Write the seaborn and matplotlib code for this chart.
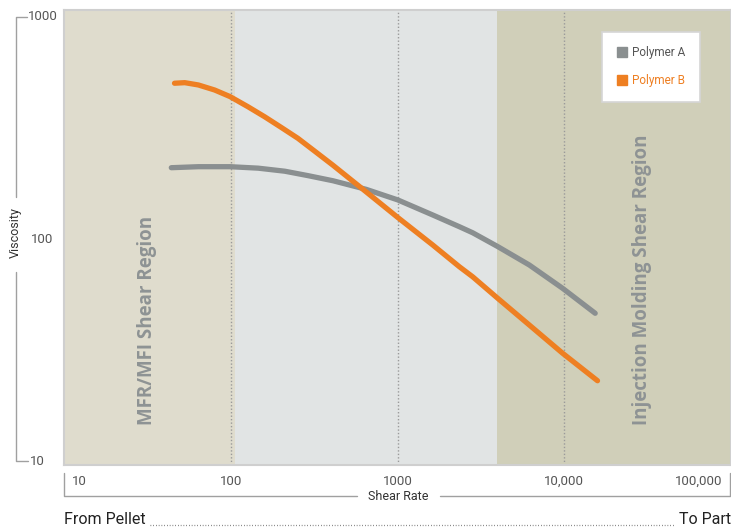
import numpy as np
import pandas as pd
import matplotlib
matplotlib.use("Agg")
import matplotlib.pyplot as plt
import matplotlib.transforms as mtransforms
from matplotlib.lines import Line2D
import seaborn as sns

# ---- valores ----
rate_a = [44, 64, 99, 146, 211, 290, 410, 649, 1004, 1627, 2351, 2824, 3988, 6171, 9770, 15330]
visc_a = [209.5, 211.7, 211.7, 208.5, 202, 193, 183, 167.4, 150, 128.3, 113.6, 106.7, 92.5, 76.4, 60.0, 46.3]

rate_b = [46, 53, 64, 80, 99, 127, 160, 201, 253, 318, 410, 649, 1004, 1627, 2351, 2824, 3988, 6171, 9770, 15830]
visc_b = [503, 506, 494, 469, 438, 394, 355, 318, 284, 249, 215, 163, 125, 94.0, 75.0, 67.6, 54.1, 41.0, 30.6, 23.0]

series_names = ["Polymer A", "Polymer B"]
region_edges = [10, 106, 3950, 100000]
region_names = ["MFR/MFI Shear Region", "", "Injection Molding Shear Region"]
grid_rates = [100, 1000, 10000]
x_tick_vals = [10, 100, 1000, 10000, 100000]
x_tick_labels = ["10", "100", "1000", "10,000", "100,000"]
y_tick_vals = [1000, 100, 10]
y_tick_labels = ["1000", "100", "10"]

df = pd.concat([
    pd.DataFrame({"rate": rate_a, "visc": visc_a, "polymer": series_names[0]}),
    pd.DataFrame({"rate": rate_b, "visc": visc_b, "polymer": series_names[1]}),
])

colores = {"Polymer A": "#8a8f90", "Polymer B": "#ee7f22"}
region_colors = ["#dfdccd", "#e1e4e4", "#d0cfb9"]

sns.set_style("white")
plt.rcParams["font.family"] = ["Roboto", "DejaVu Sans"]

W, H = 731, 529
fig = plt.figure(figsize=(W / 100, H / 100), dpi=100)
ax = fig.add_axes([64 / W, 64 / H, 667 / W, 455 / H])

# fondos de las regiones
for i in range(3):
    ax.axvspan(region_edges[i], region_edges[i + 1], color=region_colors[i], lw=0, zorder=0)
for g in grid_rates:
    ax.axvline(g, color="#9a9a9a", lw=1, ls=(0, (1, 1.5)), zorder=1)

sns.lineplot(data=df, x="rate", y="visc", hue="polymer", palette=colores,
             lw=3.8, legend=False, ax=ax, zorder=3, sort=False)
for ln in ax.lines[-2:]:
    ln.set_solid_capstyle("round")
    ln.set_solid_joinstyle("round")

ax.set_xscale("log")
ax.set_yscale("log")
ax.set_xlim(region_edges[0], region_edges[-1])
ax.set_ylim(9.6, 1075)
ax.set_xticks([])
ax.set_yticks([])
ax.minorticks_off()
ax.set_xlabel("")
ax.set_ylabel("")
for s in ax.spines.values():
    s.set_color("#cfcfcf")
    s.set_linewidth(1.5)

# textos de regiones
reg_x = [31.4, None, 29300]
for name, xv in zip(region_names, reg_x):
    if name:
        ax.text(xv, 14.5, name, rotation=90, ha="center", va="bottom",
                fontsize=13.5, fontweight="bold", color="#8e9394",
                family=["Open Sans", "DejaVu Sans"], zorder=4)

# leyenda
handles = [Line2D([], [], marker="s", ls="", markersize=7.5, color=colores[n]) for n in series_names]
leg = ax.legend(handles, series_names, loc="upper left", bbox_to_anchor=(0.806, 0.952),
                frameon=True, fancybox=False, fontsize=8.5, handletextpad=0.4,
                borderpad=1.2, labelspacing=1.3, handlelength=1.0, borderaxespad=0,
                labelcolor=["#555555", colores["Polymer B"]])
leg.get_frame().set_facecolor("white")
leg.get_frame().set_alpha(1)
leg.get_frame().set_edgecolor("#d6d6d6")
leg.get_frame().set_linewidth(1.2)

# etiquetas del eje x
bx = mtransforms.blended_transform_factory(ax.transData, ax.transAxes)
offs = {"10": (6, "left"), "100,000": (-6, "right")}
for v, lab in zip(x_tick_vals, x_tick_labels):
    dx, ha = offs.get(lab, (0, "center"))
    ax.annotate(lab, xy=(v, 0), xycoords=bx, xytext=(dx, -12), textcoords="offset points",
                ha=ha, va="center", fontsize=9.5, color="#555555", annotation_clip=False)

# etiquetas del eje y
by = mtransforms.blended_transform_factory(fig.transFigure, ax.transData)
y_pos = {"1000": (28, "left"), "100": (53, "right"), "10": (30, "left")}
for v, lab in zip(y_tick_vals, y_tick_labels):
    px, ha = y_pos[lab]
    fig.text(px / W, v, lab, transform=by, ha=ha, va="center", fontsize=9.5, color="#555555")


def fline(xs, ys, **kw):
    fig.add_artist(Line2D([x / W for x in xs], [1 - y / H for y in ys], **kw))


c_br = "#a0a0a0"
# corchete vertical
fline([27, 16, 16], [17, 17, 197], color=c_br, lw=1)
fline([16, 16, 28], [272, 461, 461], color=c_br, lw=1)
fig.text(15 / W, 1 - 233 / H, "Viscosity", rotation=90, ha="center", va="center",
         fontsize=9, color="#333333")

# corchete horizontal
fline([64, 64, 357], [473, 496, 496], color=c_br, lw=1)
fline([440, 730, 730], [496, 496, 473], color=c_br, lw=1)
fig.text(398 / W, 1 - 496 / H, "Shear Rate", ha="center", va="center", fontsize=9, color="#333333")

# From Pellet ... To Part
fig.text(64 / W, 1 - 519 / H, "From Pellet", ha="left", va="center", fontsize=11.5, color="#222222")
fig.text(731 / W, 1 - 519 / H, "To Part", ha="right", va="center", fontsize=11.5, color="#222222")
fline([150, 674], [525, 525], color="#666666", lw=0.9, ls=(0, (0.6, 1.6)))

plt.savefig("out.png", dpi=100)
